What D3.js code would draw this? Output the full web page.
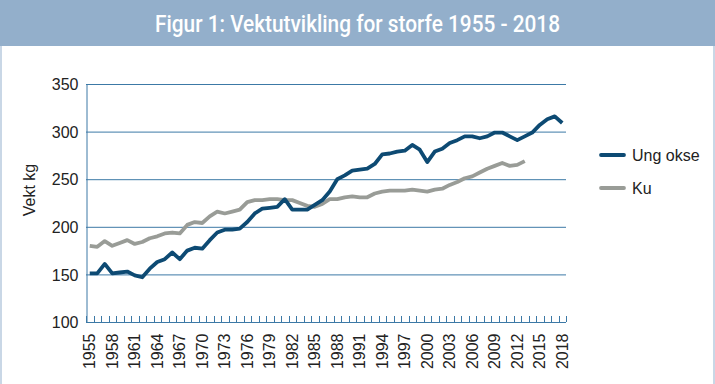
<!DOCTYPE html>
<html><head><meta charset="utf-8">
<script src="https://cdn.jsdelivr.net/npm/d3@7"></script>
<style>
html,body{margin:0;padding:0;background:#fff;}
svg{display:block;}
</style></head>
<body>
<script>
const years = d3.range(1955, 2019);
const ungOkse = [151,151,161,151,152,153,149,147,156,163,166,173,166,175,178,177,186,194,197,197,198,
  205,214,219,220,221,229,218,218,218,223,228,237,250,254,259,260,261,266,276,277,279,280,
  286,281,268,279,282,288,291,295,295,293,295,299,299,295,291,295,299,307,313,316,309];
const ku = [180,179,185,180,183,186,182,184,188,190,193,194,193,202,205,204,211,216,214,216,218,
  226,228,228,229,229,228,228,225,222,221,224,229,229,231,232,231,231,235,237,238,238,238,
  239,238,237,239,240,244,247,251,253,257,261,264,267,264,265,269,null,null,null,null,null];
const yTicks = [100,150,200,250,300,350];
const labelYears = years.filter((d,i)=> i%3===0);
const seriesNames = ["Ung okse","Ku"];
const colors = ["#0d4a73","#999c97"];

const W=715,H=384;
const svg = d3.select("body").append("svg").attr("width",W).attr("height",H);
const font = "'Liberation Sans',Arial,sans-serif";

// frame
svg.append("rect").attr("x",0).attr("y",0).attr("width",W).attr("height",H).attr("fill","#fff");
svg.append("rect").attr("x",1).attr("y",0).attr("width",W-2).attr("height",H+2)
  .attr("fill","none").attr("stroke","#c9d7e6").attr("stroke-width",2);
svg.append("rect").attr("x",0).attr("y",0).attr("width",W).attr("height",46).attr("fill","#93afcb");
svg.append("text").attr("x",W/2).attr("y",32).attr("text-anchor","middle")
  .attr("fill","#fff").style("font-family","'Roboto','Liberation Sans',sans-serif")
  .style("font-weight","500")
  .attr("textLength",405).attr("lengthAdjust","spacingAndGlyphs")
  .style("font-size","24px").text("Figur 1: Vektutvikling for storfe 1955 - 2018");

const x = d3.scaleBand().domain(years).range([86,566]).padding(0);
const y = d3.scaleLinear().domain([100,350]).range([322,84]);
const axisColor = "#3c79a6";

// gridlines
svg.append("g").selectAll("line").data(yTicks.slice(1)).join("line")
  .attr("x1",86).attr("x2",566).attr("y1",d=>y(d)+0.5).attr("y2",d=>y(d)+0.5)
  .attr("stroke",axisColor).attr("stroke-width",1);

// y axis
const yAxis = svg.append("g").attr("transform","translate(86.5,0.5)")
  .call(d3.axisLeft(y).tickValues(yTicks).tickSize(0).tickPadding(8));
yAxis.select(".domain").attr("stroke",axisColor);
yAxis.selectAll("text").style("font-family",font).style("font-size","16px").attr("fill","#222");

// x axis
const xAxis = svg.append("g").attr("transform","translate(0,322.5)")
  .call(d3.axisBottom(x).tickValues(labelYears).tickSize(0).tickPadding(0));
xAxis.select(".domain").remove();
xAxis.selectAll("text").attr("transform","rotate(-90)").attr("text-anchor","end")
  .attr("x",-11).attr("y",0).attr("dy","0.35em")
  .style("font-family",font).style("font-size","16px").attr("fill","#222");
svg.append("line").attr("x1",86).attr("x2",566).attr("y1",322.5).attr("y2",322.5).attr("stroke",axisColor);
const bounds = years.map(d=>x(d)).concat([x(years[years.length-1])+x.bandwidth()]);
svg.append("g").selectAll("line").data(bounds).join("line")
  .attr("x1",d=>Math.round(d)+0.5).attr("x2",d=>Math.round(d)+0.5).attr("y1",322).attr("y2",316)
  .attr("stroke",axisColor);

// y label
svg.append("text").attr("transform","translate(35,190) rotate(-90)").attr("text-anchor","middle")
  .style("font-family",font).style("font-size","16px").attr("fill","#222").text("Vekt kg");

// lines
const line = d3.line().defined(d=>d.v!=null)
  .x(d=>x(d.year)+x.bandwidth()/2).y(d=>y(d.v));
[ku, ungOkse].forEach((s,k)=>{
  const idx = k===0?1:0;
  svg.append("path").datum(years.map((yr,i)=>({year:yr,v:s[i]})))
    .attr("d",line).attr("fill","none").attr("stroke",colors[idx]).attr("stroke-width",3.8)
    .attr("stroke-linejoin","round");
});

// legend
const lg = svg.append("g");
seriesNames.forEach((n,i)=>{
  const yy = 155 + i*33;
  lg.append("line").attr("x1",601).attr("x2",624).attr("y1",yy).attr("y2",yy)
    .attr("stroke",colors[i]).attr("stroke-width",3.8).attr("stroke-linecap","round");
  lg.append("text").attr("x",632).attr("y",yy+6).style("font-family",font)
    .style("font-size","16px").attr("fill","#222").text(n);
});
</script>
</body></html>
